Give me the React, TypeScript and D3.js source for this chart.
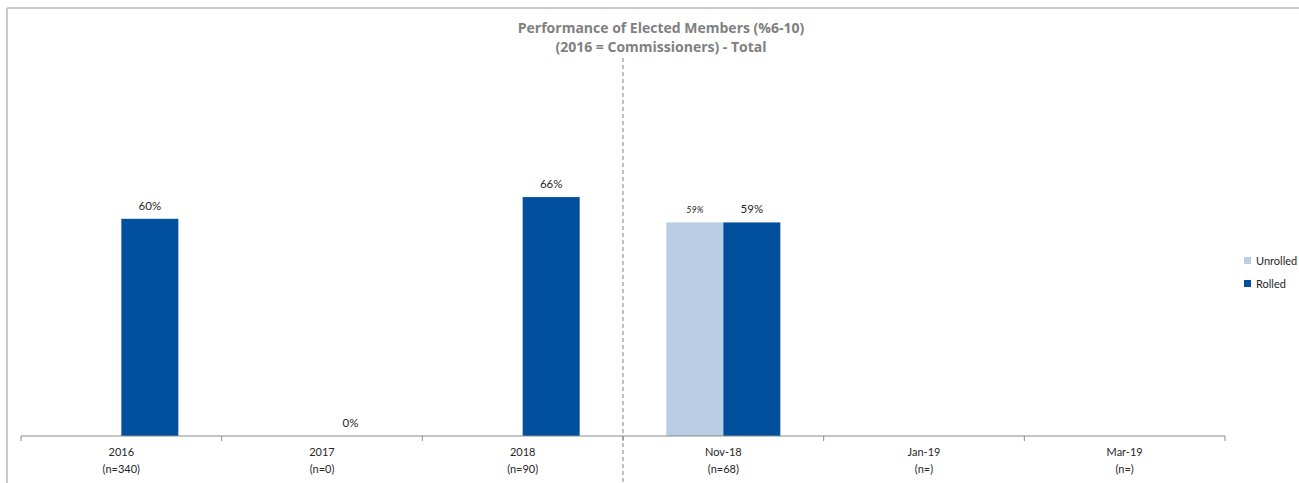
import React from "react";
import * as d3 from "d3";

const categories = ["2016", "2017", "2018", "Nov-18", "Jan-19", "Mar-19"];
const nLabels = ["(n=340)", "(n=0)", "(n=90)", "(n=68)", "(n=)", "(n=)"];
const seriesNames = ["Unrolled", "Rolled"];
const unrolledValues: (number | null)[] = [null, null, null, 0.59, null, null];
const rolledValues: (number | null)[] = [0.6, 0, 0.66, 0.59, null, null];
const titleLines = ["Performance of Elected Members (%6-10)", "(2016 = Commissioners) - Total"];

const colors: Record<string, string> = { Unrolled: "#B9CDE5", Rolled: "#00509D" };
const FONT = "Lato, 'Open Sans', sans-serif";

export default function App() {
  const W = 1299, H = 483;
  const x = d3.scaleBand<string>().domain(categories).range([21, 1225]).paddingInner(0).paddingOuter(0);
  const x1 = d3.scaleBand<string>().domain(seriesNames).range([0, x.bandwidth()]).paddingInner(0).paddingOuter(0.76);
  const y = d3.scaleLinear().domain([0, 1]).range([436, 74]);
  const fmt = d3.format(".0%");

  const series = [
    { name: "Unrolled", values: unrolledValues, italic: true, size: 9 },
    { name: "Rolled", values: rolledValues, italic: false, size: 11.5 },
  ];

  const tickXs = [...categories.map((c) => x(c)!), x.range()[1]];
  const dividerX = x("Nov-18")!;

  return (
    <svg width={W} height={H} style={{ position: "absolute", left: 0, top: 0, background: "#fff" }} fontFamily={FONT}>
      {/* frame */}
      <line x1={7} y1={8} x2={W} y2={8} stroke="#c9c9c9" strokeWidth={2} />
      <line x1={7} y1={8} x2={7} y2={H} stroke="#c9c9c9" strokeWidth={2} />

      {/* title */}
      {titleLines.map((t, i) => (
        <text key={i} x={661} y={33 + i * 19} textAnchor="middle" fontSize={14} fontWeight="bold" fill="#808080" fontFamily="'Open Sans', sans-serif">
          {t}
        </text>
      ))}

      {/* bars */}
      {series.map((s) =>
        s.values.map((v, i) => {
          if (v === null) return null;
          const bx = x(categories[i])! + x1(s.name)!;
          const bw = x1.bandwidth();
          return (
            <g key={s.name + i}>
              {v > 0 && <rect x={bx} y={y(v)} width={bw} height={y(0) - y(v)} fill={colors[s.name]} />}
              <text
                x={bx + bw / 2}
                y={y(v) - 9}
                textAnchor="middle"
                fontSize={s.size}
                fontStyle={s.italic ? "italic" : "normal"}
                fill="#262626"
              >
                {fmt(v)}
              </text>
            </g>
          );
        })
      )}

      {/* axis */}
      <line x1={x.range()[0]} x2={x.range()[1]} y1={y(0)} y2={y(0)} stroke="#8a8a8a" strokeWidth={1} />
      {tickXs.map((tx, i) => (
        <line key={i} x1={tx} x2={tx} y1={y(0)} y2={y(0) + 5} stroke="#8a8a8a" strokeWidth={1} />
      ))}
      {categories.map((c, i) => (
        <g key={c}>
          <text x={x(c)! + x.bandwidth() / 2} y={456} textAnchor="middle" fontSize={11} fill="#262626">
            {c}
          </text>
          <text x={x(c)! + x.bandwidth() / 2} y={473} textAnchor="middle" fontSize={11} fill="#262626">
            {nLabels[i]}
          </text>
        </g>
      ))}

      {/* divider */}
      <line x1={dividerX} x2={dividerX} y1={58} y2={H} stroke="#808080" strokeWidth={1} strokeDasharray="4,3" />

      {/* legend */}
      {seriesNames.map((s, i) => (
        <g key={s} transform={`translate(1244, ${257 + i * 23})`}>
          <rect x={0} y={0} width={7} height={7} fill={colors[s]} />
          <text x={12} y={7.5} fontSize={11} fill="#262626">
            {s}
          </text>
        </g>
      ))}
    </svg>
  );
}
